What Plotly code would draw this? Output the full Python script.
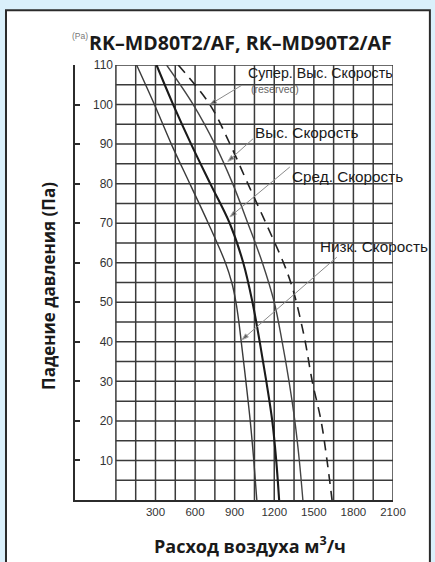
import plotly.graph_objects as go

# ---------------- data ----------------
low_flow = [157, 292, 420, 560, 700, 830, 878, 910, 932, 950, 985, 1018, 1045, 1068]
low_pa = [110, 100, 90, 80, 70, 60, 55, 50, 45, 40, 30, 20, 10, 0]

mid_flow = [308, 434, 570, 715, 862, 965, 1035, 1090, 1140, 1185, 1215, 1237]
mid_pa = [110, 100, 90, 80, 70, 60, 50, 40, 30, 20, 10, 0]

high_flow = [384, 586, 750, 885, 1000, 1110, 1200, 1260, 1312, 1356, 1390, 1417]
high_pa = [110, 100, 90, 80, 70, 60, 50, 40, 30, 20, 10, 0]

super_flow = [472, 712, 865, 1000, 1137, 1270, 1325, 1368, 1435, 1488, 1555, 1600, 1638]
super_pa = [110, 100, 90, 80, 70, 60, 55, 50, 40, 30, 20, 10, 0]

x_ticks = [300, 600, 900, 1200, 1500, 1800, 2100]
y_ticks = [10, 20, 30, 40, 50, 60, 70, 80, 90, 100, 110]
grid_x = list(range(0, 2101, 150))
grid_y = list(range(5, 111, 5))

labels = ["Супер. Выс. Скорость", "Выс. Скорость", "Сред. Скорость", "Низк. Скорость"]
label_pos = [(985, 108.1), (1038, 93.0), (1318, 81.9), (1530, 64.2)]
label_size = [14.2, 15.3, 15.3, 15.3]
# leader lines: (head on curve), (tail near label)
leader_heads = [(712, 100), (848, 85.6), (864, 71.6), (955, 40.5)]
leader_tails = [(955, 104.9), (1038, 91.3), (1318, 84.2), (1674, 61.4)]

X_RANGE = [-310, 2100]
Y_RANGE = [0, 110]

fig = go.Figure()

shapes = []
shapes.append(dict(type="rect", xref="paper", yref="paper",
                   x0=-0.217, x1=1.116, y0=-0.2, y1=1.126,
                   fillcolor="white", line=dict(color="#2b2b2b", width=2), layer="below"))
for gx in grid_x:
    shapes.append(dict(type="line", xref="x", yref="y", x0=gx, x1=gx, y0=0, y1=110,
                       line=dict(color="#3a3a3a", width=1.5), layer="below"))
for gy in grid_y:
    shapes.append(dict(type="line", xref="x", yref="y", x0=0, x1=2100, y0=gy, y1=gy,
                       line=dict(color="#3a3a3a", width=1.5), layer="below"))

sm = 1.0
fig.add_trace(go.Scatter(x=low_flow, y=low_pa, mode="lines", line=dict(color="#3a3a3a", width=1.4, shape="spline", smoothing=sm), showlegend=False))
fig.add_trace(go.Scatter(x=mid_flow, y=mid_pa, mode="lines", line=dict(color="#1a1a1a", width=2.1, shape="spline", smoothing=sm), showlegend=False))
fig.add_trace(go.Scatter(x=high_flow, y=high_pa, mode="lines", line=dict(color="#444", width=1.4, shape="spline", smoothing=sm), showlegend=False))
fig.add_trace(go.Scatter(x=super_flow, y=super_pa, mode="lines", line=dict(color="#222", width=1.6, dash="10px,7px", shape="spline", smoothing=sm), showlegend=False))

for (hx, hy), (tx, ty) in zip(leader_heads, leader_tails):
    fig.add_trace(go.Scatter(x=[tx, hx], y=[ty, hy], mode="lines+markers",
                             line=dict(color="#8a8a8a", width=1),
                             marker=dict(symbol=["circle", "arrow"], size=[0, 7], angleref="previous",
                                         color="#222"),
                             showlegend=False, hoverinfo="skip"))

# axis with the line and inside ticks
fig.add_trace(go.Scatter(x=[None], y=[None], yaxis="y2", showlegend=False))

anns = []
anns.append(dict(text="<b>RK–MD80T2/AF, RK–MD90T2/AF</b>", xref="paper", yref="paper",
                 x=(240 - 75) / 318, y=(500 - 42) / 435, xanchor="center", yanchor="middle",
                 showarrow=False, font=dict(family="Open Sans", size=19.6, color="#1a1a1a")))
anns.append(dict(text="(Pa)", xref="paper", yref="paper", x=(70 - 75) / 318, y=(500 - 36) / 435,
                 xanchor="left", yanchor="middle", showarrow=False,
                 font=dict(family="Liberation Sans", size=8.5, color="#777")))
anns.append(dict(text="<b>Расход воздуха м<sup>3</sup>/ч</b>", xref="paper", yref="paper",
                 x=(250 - 75) / 318, y=(500 - 545) / 435, xanchor="center", yanchor="middle",
                 showarrow=False, font=dict(family="Open Sans", size=18, color="#1a1a1a")))
anns.append(dict(text="<b>Падение давления (Па)</b>", xref="paper", yref="paper",
                 x=(48 - 75) / 318, y=(500 - 286) / 435, xanchor="center", yanchor="middle",
                 showarrow=False, textangle=-90,
                 font=dict(family="Open Sans", size=17, color="#1a1a1a")))

for t, (lx, ly), fs in zip(labels, label_pos, label_size):
    anns.append(dict(text=t, x=lx, y=ly, xref="x", yref="y", xanchor="left", yanchor="middle",
                     showarrow=False, font=dict(family="Liberation Sans", size=fs, color="#1a1a1a")))
anns.append(dict(text="(reserved)", x=1005, y=104.0, xref="x", yref="y", xanchor="left", yanchor="middle",
                 showarrow=False, font=dict(family="Liberation Sans", size=10.5, color="#666")))

fig.update_layout(
    width=435, height=562,
    margin=dict(l=75, r=42, t=65, b=62),
    paper_bgcolor="#daf0fb",
    plot_bgcolor="rgba(0,0,0,0)",
    shapes=shapes,
    annotations=anns,
    xaxis=dict(range=X_RANGE, tickvals=x_ticks, ticktext=[str(v) for v in x_ticks],
               showgrid=False, zeroline=False, showline=True, linecolor="#2b2b2b", linewidth=2,
               ticks="", tickfont=dict(family="Liberation Sans", size=11.5, color="#333")),
    yaxis=dict(range=Y_RANGE, tickvals=y_ticks, ticktext=[str(v) for v in y_ticks],
               anchor="free", position=(113 - 75) / 318, showline=False, showgrid=False,
               zeroline=False, ticks="", tickfont=dict(family="Liberation Sans", size=12, color="#333")),
    yaxis2=dict(range=Y_RANGE, overlaying="y", anchor="x", side="left", tickvals=y_ticks,
                showticklabels=False, showgrid=False, zeroline=False, showline=True,
                linecolor="#2b2b2b", linewidth=2, ticks="inside", ticklen=5, tickwidth=1.5,
                tickcolor="#2b2b2b"),
)

fig.write_html("out.html", config={"displayModeBar": False},
               post_script="document.body.style.margin='0';")
